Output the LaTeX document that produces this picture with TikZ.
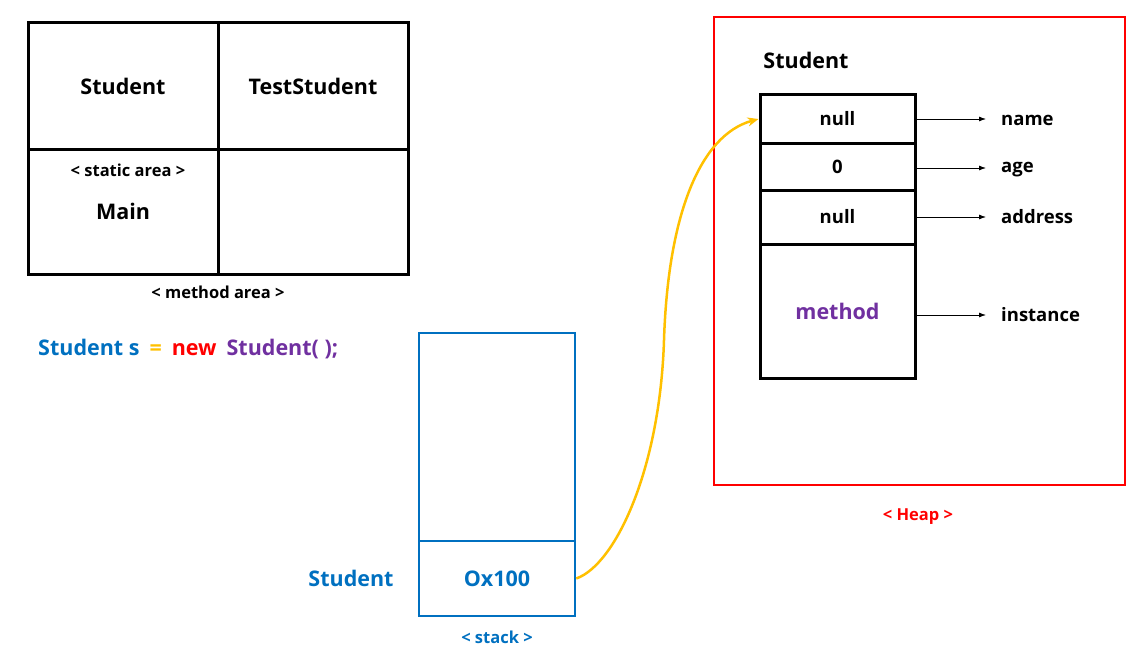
\documentclass[tikz,border=0pt]{standalone}
\usepackage{fontspec}
\setmainfont{Open Sans}
\usepackage{xcolor}
\usetikzlibrary{arrows.meta,positioning,calc}
\definecolor{codeblue}{RGB}{0,112,192}
\definecolor{codeyellow}{RGB}{255,192,0}
\definecolor{codered}{RGB}{255,0,0}
\definecolor{codepurple}{RGB}{112,48,160}
\newcommand\fbig{\fontsize{21.5}{25}\selectfont\bfseries}
\newcommand\fmid{\fontsize{18.5}{22}\selectfont\bfseries}
\newcommand\fsmall{\fontsize{16.5}{20}\selectfont\bfseries}
\newcommand\codegap{\hspace{10pt}}
\tikzset{
  cellbox/.style={draw, line width=3pt, inner sep=0pt, font=\fbig},
  stackbox/.style={draw=codeblue, line width=2.5pt, inner sep=0pt, minimum width=156pt, text=codeblue, font=\fbig},
  fieldbox/.style={draw, line width=3pt, inner sep=0pt, minimum width=155pt, font=\fmid},
  areatag/.style={font=\fsmall, inner sep=0pt},
  fieldname/.style={font=\fmid, inner sep=0pt, anchor=west},
  fieldflow/.style={-{Latex[length=7pt,width=5pt]}, line width=0.8pt, shorten >=15pt},
  refflow/.style={-{Stealth[length=11pt,width=9pt]}, line width=2.5pt, draw=codeyellow}
}
\begin{document}
\begin{tikzpicture}[x=1pt, y=-1pt]
\useasboundingbox (0,0) rectangle (1137,650);

% method area
\node[cellbox, minimum width=190pt, minimum height=126pt] (cls) at (123,86) {Student};
\node[cellbox, minimum width=190pt, minimum height=126pt] (test) at (313,86) {TestStudent};
\node[cellbox, minimum width=190pt, minimum height=125pt] (main) at (123,211.5) {Main};
\node[cellbox, minimum width=190pt, minimum height=125pt] (empty) at (313,211.5) {};
\node[areatag] (static) at (128,170) {< static area >};
\node[areatag] (methodtag) at (218,292) {< method area >};

% source line
\node[font=\fbig, inner sep=0pt, anchor=west] (code) at (38,349)
  {\textcolor{codeblue}{Student s}\codegap\textcolor{codeyellow}{=}\codegap\textcolor{codered}{new}\codegap\textcolor{codepurple}{Student( );}};

% stack
\node[stackbox, minimum height=208pt] (frame) at (497,437) {};
\node[stackbox, minimum height=75pt] (ptr) at (497,578.5) {Ox100};
\node[font=\fbig, text=codeblue, inner sep=0pt] (var) at (351,578) {Student};
\node[areatag, text=codeblue] (stacktag) at (497,637) {< stack >};

% heap
\node[draw=codered, line width=2.5pt, minimum width=411pt, minimum height=468pt, inner sep=0pt] (heap) at (919.5,251) {};
\node[areatag, text=codered] (heaptag) at (918,517) {< Heap >};
\node[font=\fbig, inner sep=0pt] (obj) at (806,60) {Student};
\node[fieldbox, minimum height=48pt] (nm) at (837.5,119) {null};
\node[fieldbox, minimum height=47pt] (ag) at (837.5,166.5) {0};
\node[fieldbox, minimum height=54pt] (ad) at (837.5,217) {null};
\node[fieldbox, minimum height=134pt, font=\fbig, text=codepurple] (mt) at (837.5,311) {method};

\node[fieldname] (nmlbl) at (1001,120) {name};
\node[fieldname] (aglbl) at (1001,170) {age};
\node[fieldname] (adlbl) at (1001,217) {address};
\node[fieldname] (mtlbl) at (1001,315) {instance};

\draw[fieldflow] (nm.east) -- (nm.east -| nmlbl.west);
\draw[fieldflow] (ag.east |- 0,168) -- (aglbl.west |- 0,168);
\draw[fieldflow] (ad.east) -- (adlbl.west);
\draw[fieldflow] (mt.east |- mtlbl.west) -- (mtlbl.west);

% reference
\draw[refflow] (ptr.east) .. controls (615,565) and (660,470) .. (664,340)
  .. controls (668,215) and (700,135) .. (nm.west);
\end{tikzpicture}
\end{document}
